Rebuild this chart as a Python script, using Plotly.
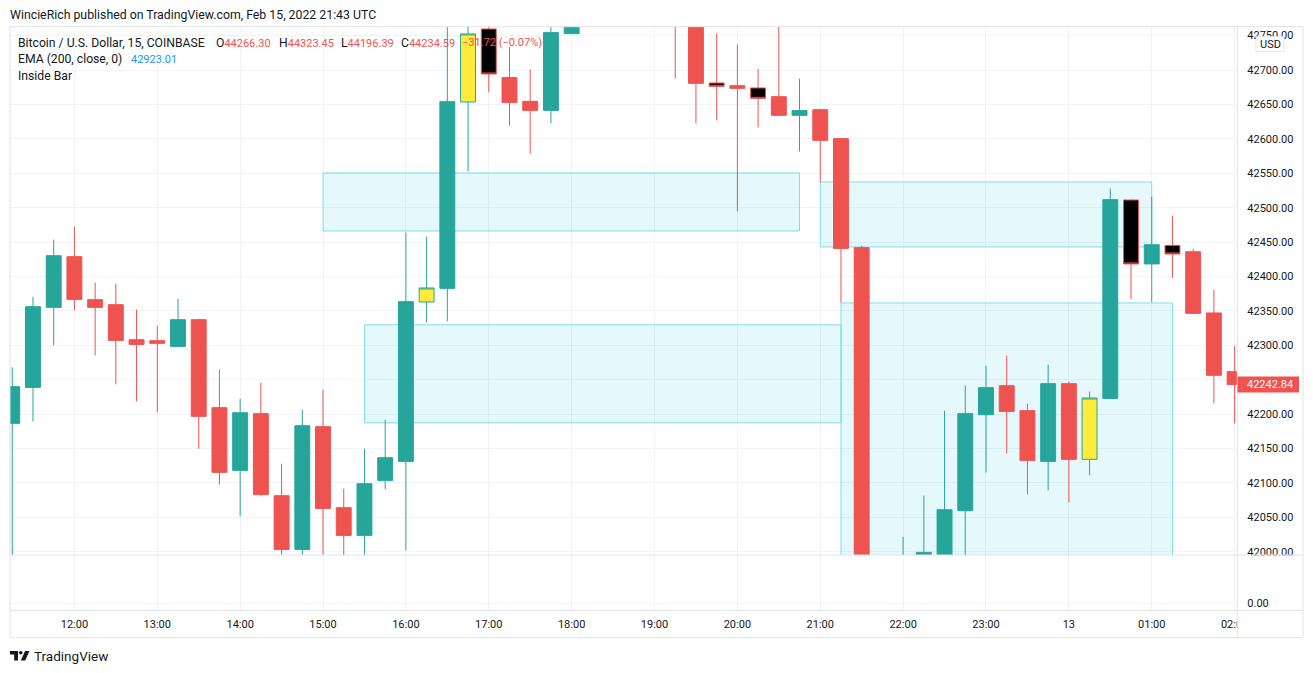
import pandas as pd
import plotly.graph_objects as go

# page has an 8px body margin: the figure is placed at (8, 8) and fills the rest of the window
OFF = 8
W, H = 1313 - OFF, 673 - OFF

# ---------------- data ----------------
times = pd.date_range("2022-02-12 11:15", periods=60, freq="15min")

opens = [42186.5, 42238.8, 42355.1, 42428.8, 42366.3, 42359.0, 42308.1, 42306.7, 42298.4, 42337.2,
         42209.3, 42118.2, 42200.6, 42081.4, 42003.3, 42181.7, 42064.0, 42023.7, 42103.6, 42131.2,
         42362.9, 42382.7, 42653.6, 42759.7, 42689.0, 42654.5, 42641.4, 42752.9, 42790.0, 42840.0,
         42880.0, 42850.0, 42830.0, 42790.0, 42681.2, 42677.3, 42674.0, 42661.3, 42634.2, 42642.4,
         42600.3, 42441.9, 41880.0, 41900.0, 41960.0, 41985.0, 42059.6, 42199.1, 42241.3, 42205.0,
         42131.2, 42244.2, 42134.2, 42222.8, 42511.2, 42418.2, 42445.2, 42436.0, 42347.0, 42261.6]
highs = [42267.9, 42370.6, 42453.5, 42472.4, 42391.0, 42389.5, 42351.7, 42328.5, 42367.7, 42338.7,
         42264.5, 42222.4, 42245.6, 42127.9, 42206.4, 42235.5, 42091.6, 42149.7, 42191.9, 42463.7,
         42457.8, 42800.0, 42790.0, 42770.0, 42733.6, 42700.6, 42790.0, 42830.0, 42860.0, 42900.0,
         42920.0, 42935.0, 42860.0, 42800.0, 42752.9, 42736.9, 42702.0, 42770.0, 42687.5, 42643.0,
         42601.0, 42444.8, 41960.0, 42021.8, 42081.4, 42205.0, 42241.3, 42270.3, 42284.9, 42215.1,
         42271.8, 42247.1, 42232.6, 42527.6, 42511.8, 42516.0, 42488.4, 42440.0, 42380.8, 42299.0]
lows = [41970.0, 42189.4, 42299.9, 42350.7, 42285.3, 42243.2, 42218.5, 42202.5, 42298.0, 42149.7,
        42097.4, 42051.3, 42080.4, 41975.0, 41965.0, 41975.0, 41950.0, 41960.0, 42090.6, 42001.5,
        42333.3, 42334.7, 42552.8, 42667.6, 42619.2, 42578.5, 42622.5, 42752.9, 42770.0, 42810.0,
        42830.0, 42800.0, 42688.0, 42622.5, 42626.9, 42494.6, 42616.7, 42633.0, 42581.8, 42536.8,
        42362.0, 41850.0, 41820.0, 41880.0, 41940.0, 41970.0, 41980.0, 42115.3, 42142.9, 42083.3,
        42089.1, 42071.7, 42110.9, 42222.0, 42367.3, 42362.4, 42397.8, 42346.0, 42215.6, 42186.5]
closes = [42239.8, 42356.1, 42430.2, 42366.7, 42355.1, 42307.1, 42301.3, 42302.8, 42337.2, 42196.7,
          42115.3, 42202.0, 42083.3, 42003.3, 42183.1, 42062.9, 42023.7, 42098.8, 42136.6, 42363.4,
          42383.3, 42654.1, 42752.5, 42694.3, 42653.0, 42641.4, 42754.4, 42790.0, 42840.0, 42880.0,
          42850.0, 42830.0, 42790.0, 42680.7, 42676.3, 42673.4, 42658.9, 42634.2, 42641.0, 42597.8,
          42440.8, 41880.0, 41900.0, 41960.0, 41999.0, 42061.0, 42200.6, 42238.4, 42203.9, 42132.7,
          42244.2, 42134.2, 42223.4, 42511.6, 42418.2, 42446.2, 42432.7, 42346.4, 42256.3, 42242.84]

# lower indicator pane (Inside Bar study, flat at zero)
indicator = [0.0] * 60

# highlighted zones (inside-bar ranges)
box_start = ["2022-02-12 15:00", "2022-02-12 15:30", "2022-02-12 21:00", "2022-02-12 21:15"]
box_end = ["2022-02-12 20:45", "2022-02-12 21:15", "2022-02-13 01:00", "2022-02-13 01:15"]
box_top = [42550.4, 42329.7, 42537.4, 42361.5]
box_bottom = [42466.1, 42187.2, 42442.9, 41900.0]

hour_ticks = pd.date_range("2022-02-12 12:00", periods=15, freq="60min")
hour_labels = ["12:00", "13:00", "14:00", "15:00", "16:00", "17:00", "18:00", "19:00",
               "20:00", "21:00", "22:00", "23:00", "13", "01:00", "02:00"]
price_ticks = [42000 + 50 * i for i in range(16)]

# ---------------- helpers (window pixels -> paper) ----------------
def px(x):
    return (x - OFF) / W

def py(y):
    return 1 - (y - OFF) / H

GREEN = "#26a69a"
RED = "#ef5350"
TXT = "#131722"
GRID = "#f0f3fa"
BORDER = "#e0e3eb"
FONT = "Roboto"

last = closes[-1]
# price labels hidden behind the last-price tag
price_text = ["" if abs(v - last) < 12 else f"{v:.2f}" for v in price_ticks]

# inside bar detection
inside = [False] + [highs[i] <= highs[i - 1] and lows[i] >= lows[i - 1] for i in range(1, len(times))]

def pick(vals, flag):
    return [v if inside[i] == flag else None for i, v in enumerate(vals)]

fig = go.Figure()
fig.add_trace(go.Candlestick(
    x=times, open=pick(opens, False), high=pick(highs, False), low=pick(lows, False), close=pick(closes, False),
    increasing=dict(line=dict(color=GREEN, width=1), fillcolor=GREEN),
    decreasing=dict(line=dict(color=RED, width=1), fillcolor=RED),
    hoverinfo="skip", showlegend=False, xaxis="x", yaxis="y"))
fig.add_trace(go.Candlestick(
    x=times, open=pick(opens, True), high=pick(highs, True), low=pick(lows, True), close=pick(closes, True),
    increasing=dict(line=dict(color=GREEN, width=1), fillcolor="#ffeb3b"),
    decreasing=dict(line=dict(color=RED, width=1), fillcolor="#000000"),
    hoverinfo="skip", showlegend=False, xaxis="x", yaxis="y"))
fig.add_trace(go.Scatter(x=times, y=indicator, mode="lines", line=dict(color="rgba(0,0,0,0)", width=1),
                         hoverinfo="skip", showlegend=False, xaxis="x2", yaxis="y2"))

shapes = []
for s, e, t, b in zip(box_start, box_end, box_top, box_bottom):
    shapes.append(dict(type="rect", xref="x", yref="y", x0=s, x1=e, y0=b, y1=t,
                       fillcolor="rgba(0,188,212,0.10)", line=dict(color="#80deea", width=1),
                       layer="between"))

# covers for overflowing axis labels
shapes.append(dict(type="rect", xref="paper", yref="paper", x0=px(1237.5), x1=px(1302.5),
                   y0=py(637), y1=py(611), fillcolor="white", line=dict(width=0), layer="above"))
shapes.append(dict(type="rect", xref="paper", yref="paper", x0=px(1238), x1=px(1302.5),
                   y0=py(594), y1=py(555.5), fillcolor="white", line=dict(width=0), layer="above"))
# frame
shapes.append(dict(type="rect", xref="paper", yref="paper", x0=px(10), x1=px(1303),
                   y0=py(637.7), y1=py(26.7), line=dict(color=BORDER, width=1), layer="above"))
shapes.append(dict(type="line", xref="paper", yref="paper", x0=px(1237.3), x1=px(1237.3),
                   y0=py(637.7), y1=py(26.7), line=dict(color=BORDER, width=1), layer="above"))
for yy in (555, 610.3):
    shapes.append(dict(type="line", xref="paper", yref="paper", x0=px(10), x1=px(1303),
                       y0=py(yy), y1=py(yy), line=dict(color=BORDER, width=1), layer="above"))
# last price tag
half = 8.0 / 0.6881
shapes.append(dict(type="rect", xref="paper", yref="y", x0=px(1237.5), x1=px(1299),
                   y0=last - half, y1=last + half, fillcolor=RED, line=dict(width=0), layer="above"))
# USD badge
shapes.append(dict(type="rect", xref="paper", yref="paper", x0=px(1256), x1=px(1284),
                   y0=py(51.7), y1=py(36.7), fillcolor="white", line=dict(color=BORDER, width=1), layer="above"))
# TradingView logo
def path(points):
    return "M" + " L".join(f"{px(a):.5f},{py(b):.5f}" for a, b in points) + " Z"
shapes.append(dict(type="path", xref="paper", yref="paper",
                   path=path([(10, 651), (18, 651), (18, 660.5), (14.2, 660.5), (14.2, 654.6), (10, 654.6)]),
                   fillcolor=TXT, line=dict(width=0), layer="above"))
shapes.append(dict(type="circle", xref="paper", yref="paper", x0=px(19), x1=px(22.6),
                   y0=py(654.6), y1=py(651), fillcolor=TXT, line=dict(width=0), layer="above"))
shapes.append(dict(type="path", xref="paper", yref="paper",
                   path=path([(25, 651), (29.4, 651), (25.2, 660.5), (20.8, 660.5)]),
                   fillcolor=TXT, line=dict(width=0), layer="above"))

def ann(x, y, text, size=11, color=TXT, xanchor="left"):
    return dict(x=px(x), y=py(y), xref="paper", yref="paper", text=text, showarrow=False,
                xanchor=xanchor, yanchor="middle",
                font=dict(family=FONT, size=size, color=color), borderpad=0)

def val(letter, v):
    return f"<span style='font-size:12.2px'>{letter}</span><span style='color:{RED}'>{v}</span>"

annotations = [
    ann(9, 15, "WincieRich published on TradingView.com, Feb 15, 2022 21:43 UTC", size=12.3),
    ann(17, 42.5, "Bitcoin / U.S. Dollar, 15, COINBASE", size=12.2),
    ann(215, 42.5, val("O", "44266.30")),
    ann(277.5, 42.5, val("H", "44323.45")),
    ann(339.5, 42.5, val("L", "44196.39")),
    ann(399.5, 42.5, val("C", "44234.59")),
    ann(460.5, 42.5, "−31.72 (−0.07%)", color=RED),
    ann(17, 59.3, "EMA (200, close, 0)", size=12.2),
    ann(129.5, 59.3, "42923.01", color="#2196f3"),
    ann(17, 76, "Inside Bar", size=12.2),
    dict(x=px(1246), y=last, xref="paper", yref="y", text=f"{last:.2f}", showarrow=False,
         xanchor="left", yanchor="middle", font=dict(family=FONT, size=11, color="white"), borderpad=0),
    ann(1270, 44.2, "USD", xanchor="center"),
    ann(32.5, 655.7, "TradingView", size=13.5),
]

x_range = ["2022-02-12 11:13:22", "2022-02-13 02:01:57"]
dom_x = [px(10), px(1237.3)]

fig.update_layout(
    width=W, height=H, margin=dict(l=0, r=0, t=0, b=0, pad=0, autoexpand=False),
    paper_bgcolor="white", plot_bgcolor="white", showlegend=False,
    boxgap=0.28, boxgroupgap=0,
    font=dict(family=FONT, size=11, color=TXT),
    shapes=shapes, annotations=annotations,
    xaxis=dict(domain=dom_x, anchor="y", type="date", range=x_range, tickvals=hour_ticks,
               showticklabels=False, showgrid=True, gridcolor=GRID, gridwidth=1, zeroline=False,
               showline=False, ticks="", rangeslider=dict(visible=False), fixedrange=True,
               automargin=False),
    yaxis=dict(domain=[py(555), py(26.7)], anchor="x", range=[41995.2, 42763.0], side="right",
               tickvals=price_ticks, ticktext=price_text, showgrid=True, gridcolor=GRID, gridwidth=1,
               zeroline=False, showline=False, ticks="", ticklabelstandoff=9,
               tickfont=dict(family=FONT, size=11, color=TXT), fixedrange=True, automargin=False),
    xaxis2=dict(domain=dom_x, anchor="y2", type="date", range=x_range,
                tickvals=hour_ticks, ticktext=hour_labels, showgrid=True, gridcolor=GRID, gridwidth=1,
                zeroline=False, showline=False, ticks="", ticklabelstandoff=6,
                tickfont=dict(family=FONT, size=11, color=TXT), fixedrange=True, automargin=False),
    yaxis2=dict(domain=[py(610.3), py(555)], anchor="x2", range=[-0.12658, 0.87342], side="right",
                tickvals=[0], tickformat=".2f", showgrid=True, gridcolor=GRID, gridwidth=1,
                zeroline=False, showline=False, ticks="", ticklabelstandoff=9,
                tickfont=dict(family=FONT, size=11, color=TXT), fixedrange=True, automargin=False),
)

fig.write_html("out.html", config={"displayModeBar": False, "responsive": False})
